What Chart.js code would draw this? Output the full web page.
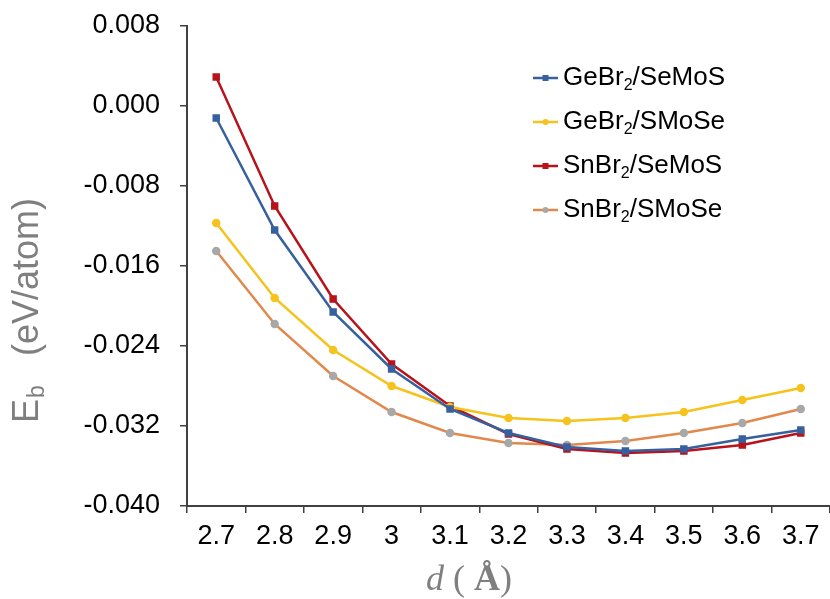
<!DOCTYPE html>
<html>
<head>
<meta charset="utf-8">
<script src="https://cdn.jsdelivr.net/npm/chart.js@4/dist/chart.umd.min.js"></script>
<style>
html,body{margin:0;padding:0;background:#fff;}
#wrap{width:830px;height:599px;position:relative;}
</style>
</head>
<body>
<div id="wrap"><canvas id="c" width="830" height="599"></canvas></div>
<script>
const categories = ['2.7','2.8','2.9','3','3.1','3.2','3.3','3.4','3.5','3.6','3.7'];
const geBrSeMoS = [-0.0012,-0.0124,-0.0206,-0.0263,-0.0303,-0.0327,-0.0341,-0.0345,-0.0343,-0.0333,-0.0324];
const geBrSMoSe = [-0.0117,-0.0192,-0.0244,-0.0280,-0.0301,-0.0312,-0.0315,-0.0312,-0.0306,-0.0294,-0.0282];
const snBrSeMoS = [0.0029,-0.0100,-0.0193,-0.0258,-0.0300,-0.0328,-0.0343,-0.0347,-0.0345,-0.0339,-0.0327];
const snBrSMoSe = [-0.0145,-0.0218,-0.0270,-0.0306,-0.0327,-0.0337,-0.0339,-0.0335,-0.0327,-0.0317,-0.0303];
const seriesNames = [['GeBr','2','/SeMoS'],['GeBr','2','/SMoSe'],['SnBr','2','/SeMoS'],['SnBr','2','/SMoSe']];
const yTicks = {min:-0.040, max:0.008, step:0.008};

const FONT = '"Liberation Sans", Arial, sans-serif';
const SERIF = '"Liberation Serif", "Times New Roman", serif';

const customDraw = {
  id:'customDraw',
  afterDraw(chart){
    const ctx = chart.ctx;
    ctx.save();
    // Legend
    const rows = [78,122,166,210];
    chart.data.datasets.forEach((ds,i)=>{
      const y = rows[i];
      ctx.strokeStyle = ds.borderColor;
      ctx.lineWidth = 2.5;
      ctx.beginPath(); ctx.moveTo(533,y); ctx.lineTo(558,y); ctx.stroke();
      ctx.fillStyle = ds.pointBackgroundColor;
      if (ds.pointStyle==='rect'){ ctx.fillRect(545.5-3,y-3,6,6); }
      else { ctx.beginPath(); ctx.arc(545.5,y,3,0,Math.PI*2); ctx.fill(); }
      const n = seriesNames[i];
      ctx.fillStyle = '#000';
      ctx.textBaseline = 'middle';
      ctx.textAlign = 'left';
      ctx.font = '26px '+FONT;
      let x = 563;
      ctx.fillText(n[0],x,y); x += ctx.measureText(n[0]).width;
      ctx.font = '16px '+FONT;
      ctx.fillText(n[1],x,y+8); x += ctx.measureText(n[1]).width;
      ctx.font = '26px '+FONT;
      ctx.fillText(n[2],x,y);
    });
    // Y title
    ctx.save();
    ctx.translate(38,423);
    ctx.rotate(-Math.PI/2);
    ctx.fillStyle = '#7f7f7f';
    ctx.textBaseline = 'alphabetic';
    ctx.textAlign = 'left';
    let sx = 0;
    ctx.font = '36px '+FONT; ctx.fillText('E',sx,0); sx += ctx.measureText('E').width;
    ctx.font = '23px '+FONT; ctx.fillText('b',sx+1,6);
    ctx.font = '36px '+FONT;
    const paren = '(eV/atom)';
    const pw = ctx.measureText(paren).width;
    ctx.fillText(paren, 225 - pw, 0);
    ctx.restore();
    // X title
    ctx.fillStyle = '#7f7f7f';
    ctx.textBaseline = 'alphabetic';
    ctx.textAlign = 'left';
    const parts = [['d','italic 36px '+SERIF],[' ( ','36px '+SERIF],['Å','bold 36px '+SERIF],[')','36px '+SERIF]];
    let tx = 426;
    parts.forEach(p=>{ctx.font=p[1]; ctx.fillText(p[0],tx,590); tx+=ctx.measureText(p[0]).width;});
    ctx.restore();
  }
};

new Chart(document.getElementById('c'),{
  type:'line',
  data:{
    labels:categories,
    datasets:[
      {label:'GeBr2/SeMoS',data:geBrSeMoS,borderColor:'#36609E',pointBackgroundColor:'#36609E',pointBorderColor:'#36609E',pointStyle:'rect',pointRadius:3.5,borderWidth:2.5,tension:0},
      {label:'GeBr2/SMoSe',data:geBrSMoSe,borderColor:'#F6C21C',pointBackgroundColor:'#F6C21C',pointBorderColor:'#F6C21C',pointStyle:'circle',pointRadius:3,borderWidth:2.5,tension:0},
      {label:'SnBr2/SeMoS',data:snBrSeMoS,borderColor:'#B8121B',pointBackgroundColor:'#B8121B',pointBorderColor:'#B8121B',pointStyle:'rect',pointRadius:3.5,borderWidth:2.5,tension:0},
      {label:'SnBr2/SMoSe',data:snBrSMoSe,borderColor:'#E2884C',pointBackgroundColor:'#A8A8A8',pointBorderColor:'#A8A8A8',pointStyle:'circle',pointRadius:3,borderWidth:2.5,tension:0}
    ]
  },
  options:{
    responsive:false,
    animation:false,
    layout:{autoPadding:false,padding:{top:26,right:-2,left:0,bottom:0}},
    plugins:{legend:{display:false},tooltip:{enabled:false},title:{display:false}},
    scales:{
      x:{
        type:'category',
        offset:true,
        grid:{display:true,offset:true,drawOnChartArea:false,drawTicks:true,tickLength:7,color:'#404040',lineWidth:1.5},
        border:{display:true,color:'#404040',width:2},
        ticks:{color:'#000',font:{family:FONT,size:27},padding:7,maxRotation:0,autoSkip:false},
        afterFit(s){s.height=93;s.paddingLeft=0;s.paddingRight=0;}
      },
      y:{
        min:yTicks.min,max:yTicks.max,
        grid:{display:true,drawOnChartArea:false,drawTicks:true,tickLength:7,color:'#404040',lineWidth:1.5},
        border:{display:true,color:'#404040',width:2},
        ticks:{stepSize:yTicks.step,color:'#000',font:{family:FONT,size:27},padding:20,callback:v=>Number(v).toFixed(3)},
        afterFit(s){s.width=187;s.paddingTop=0;s.paddingBottom=0;}
      }
    }
  },
  plugins:[customDraw]
});
</script>
</body>
</html>
